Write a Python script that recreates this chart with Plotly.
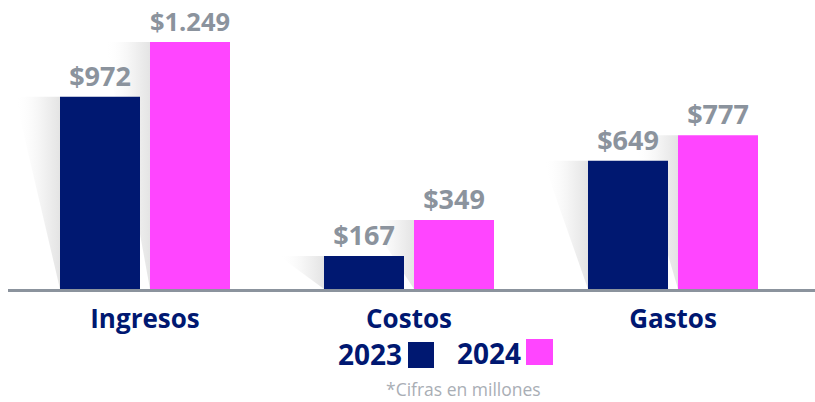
import plotly.graph_objects as go

categories = ["Ingresos", "Costos", "Gastos"]
series_names = ["2023", "2024"]
values_2023 = [972, 167, 649]
values_2024 = [1249, 349, 777]
footnote = "*Cifras en millones"

NAVY = "#001871"
MAGENTA = "#FF45FF"
GREY = "#8b939d"
FONT = "Open Sans"

W, H = 815, 402
ML, MR, MT, MB = 8, 0, 20, 113
PW, PH = W - ML - MR, H - MT - MB
PX_PER_UNIT = 264.0
XMIN = -137.0 / PX_PER_UNIT
XMAX = XMIN + PW / PX_PER_UNIT
YMAX = 1360

BAR_W = 80 / PX_PER_UNIT
OFFSETS = [-85 / PX_PER_UNIT, 5 / PX_PER_UNIT]
SHADOW_W = 45 / PX_PER_UNIT


def fmt(v):
    return "$" + f"{v:,}".replace(",", ".")


def px_x(p):
    return (p - ML) / PW


def px_y(p):
    return (H - MB - p) / PH


xs = list(range(len(categories)))
fig = go.Figure()

# gradient shadows (base axes, drawn beneath the bars)
for vals, off in zip([values_2023, values_2024], OFFSETS):
    for x, v in zip(xs, vals):
        xl = x + off
        fig.add_trace(go.Scatter(
            x=[xl - SHADOW_W, xl, xl, xl - SHADOW_W],
            y=[v, v, 0, v],
            mode="lines", line=dict(width=0), fill="toself",
            fillgradient=dict(type="horizontal", colorscale=[
                [0, "rgba(255,255,255,0)"],
                [0.55, "rgba(245,245,245,1)"],
                [1, "rgba(228,228,228,1)"]]),
            hoverinfo="skip", showlegend=False,
            xaxis="x", yaxis="y"))

for name, vals, col, off in zip(series_names, [values_2023, values_2024],
                                [NAVY, MAGENTA], OFFSETS):
    fig.add_trace(go.Bar(
        x=xs, y=vals, name=name, marker=dict(color=col, line=dict(width=0)),
        width=BAR_W, offset=off,
        text=[fmt(v) for v in vals], textposition="outside",
        textfont=dict(family=FONT, size=27, color=GREY, weight="bold"),
        cliponaxis=False, showlegend=False, hoverinfo="skip",
        xaxis="x2", yaxis="y2"))

fig.update_layout(
    width=W, height=H,
    margin=dict(l=ML, r=MR, t=MT, b=MB),
    paper_bgcolor="white", plot_bgcolor="white",
    barmode="overlay",
    xaxis=dict(range=[XMIN, XMAX], tickvals=xs, ticktext=categories,
               showgrid=False, zeroline=False, showline=True,
               linecolor=GREY, linewidth=2.5, ticks="",
               ticklabelstandoff=5,
               tickfont=dict(family=FONT, size=26, color=NAVY, weight="bold")),
    yaxis=dict(range=[0, YMAX], visible=False, showgrid=False),
    xaxis2=dict(range=[XMIN, XMAX], overlaying="x", visible=False),
    yaxis2=dict(range=[0, YMAX], overlaying="y", visible=False),
)

# legend (text left of swatch)
leg_font = dict(family=FONT, size=28, color=NAVY, weight="bold")
fig.add_annotation(x=px_x(404), y=px_y(354), xref="paper", yref="paper",
                   text=series_names[0], showarrow=False, xanchor="right",
                   yanchor="middle", font=leg_font)
fig.add_annotation(x=px_x(523), y=px_y(353), xref="paper", yref="paper",
                   text=series_names[1], showarrow=False, xanchor="right",
                   yanchor="middle", font=leg_font)
fig.add_shape(type="rect", xref="paper", yref="paper",
              x0=px_x(408), x1=px_x(434), y0=px_y(368), y1=px_y(342),
              fillcolor=NAVY, line=dict(width=0))
fig.add_shape(type="rect", xref="paper", yref="paper",
              x0=px_x(526), x1=px_x(553), y0=px_y(365), y1=px_y(339),
              fillcolor=MAGENTA, line=dict(width=0))

fig.add_annotation(x=px_x(463), y=px_y(403), xref="paper", yref="paper",
                   text=footnote, showarrow=False, xanchor="center",
                   yanchor="bottom",
                   font=dict(family=FONT, size=17.5, color="#a9aeb5"))

fig.write_html("out.html",
               config={"displayModeBar": False, "staticPlot": True},
               post_script="document.body.style.margin='0';"
                           "document.body.style.overflow='hidden';")
